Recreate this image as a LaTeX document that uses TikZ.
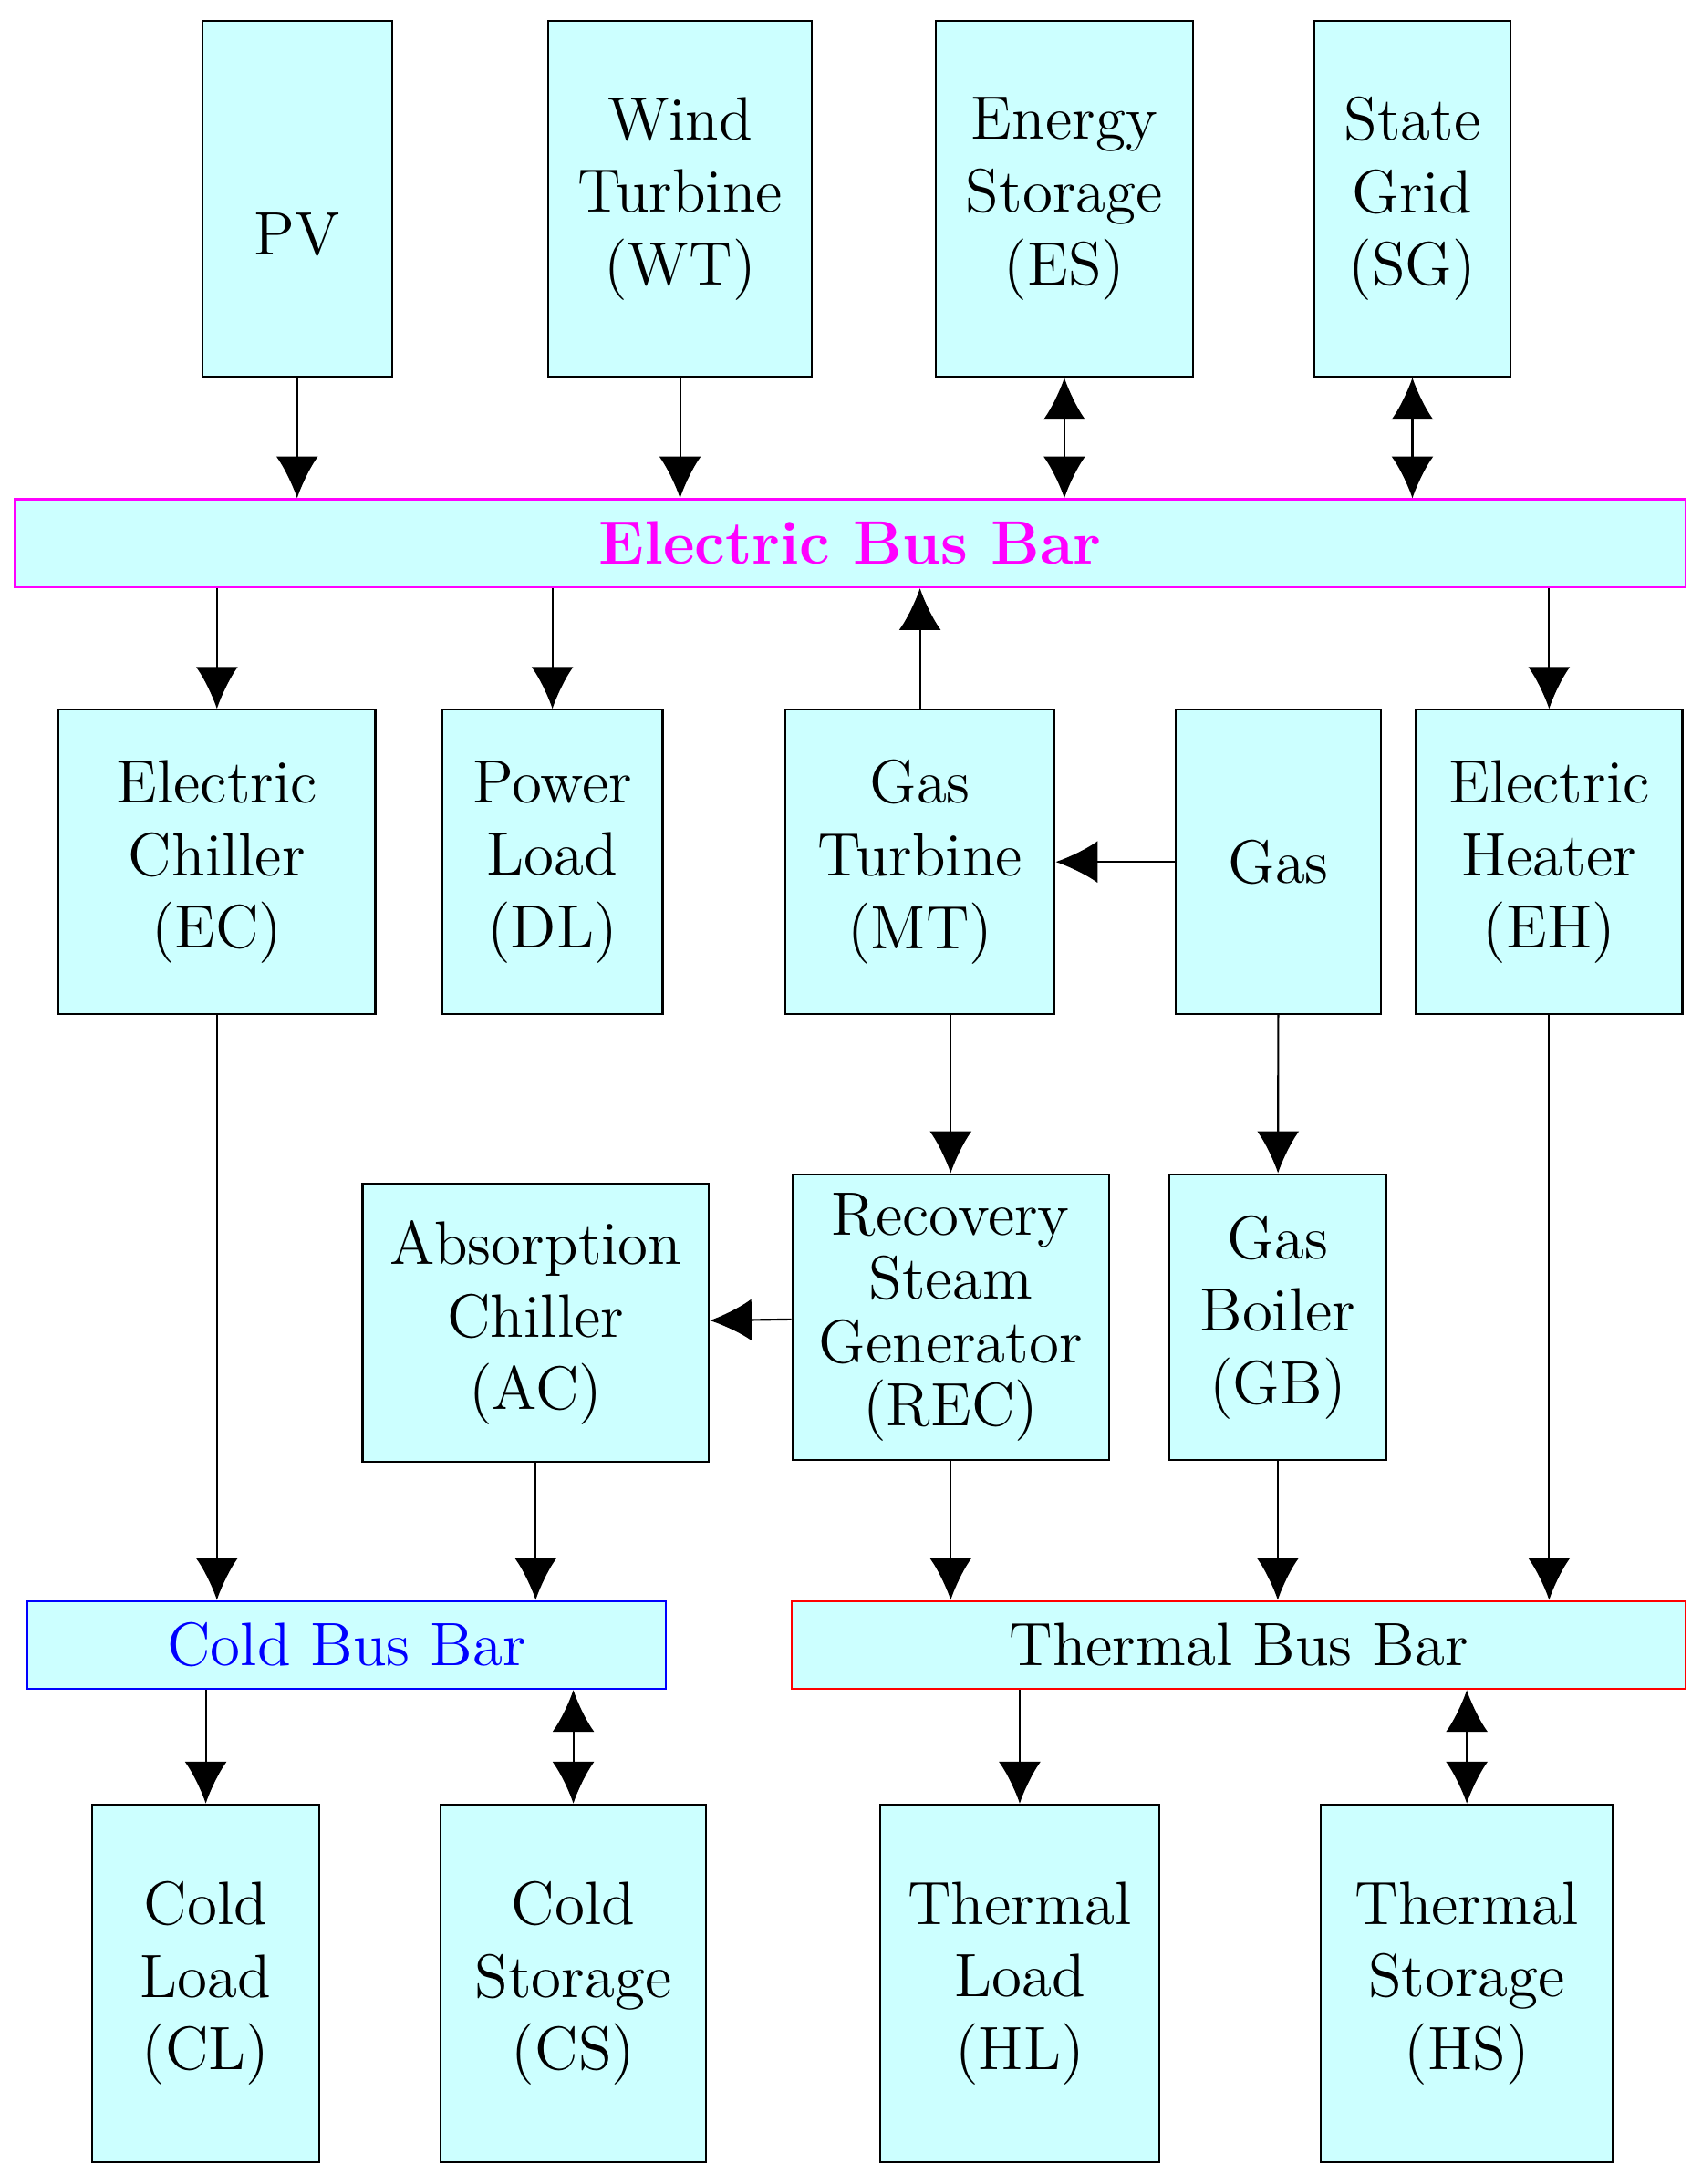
\documentclass[tikz,border=0pt]{standalone}
\usetikzlibrary{arrows.meta}
\definecolor{boxfill}{HTML}{CCFFFF}
\definecolor{busmagenta}{RGB}{255,0,255}
\tikzset{
	box/.style  = {shape=rectangle, draw, fill=boxfill, align=center,
		inner sep=0pt, font=\fontsize{12.5}{14.8}\selectfont},
	bus/.style  = {box, minimum height=0.63cm},
	flow/.style = {-{Latex[length=0.3cm,width=0.3cm]}},
	both/.style = {{Latex[length=0.3cm,width=0.3cm]}-{Latex[length=0.3cm,width=0.3cm]}}
}
\begin{document}
\begin{tikzpicture}[x=0.01cm, y=-0.01cm]
\useasboundingbox (0,0) rectangle (1220,1566);
% sources
\node [box, minimum width=1.36cm, minimum height=2.55cm, text height=0.82cm] (pv) at (213,142.5) {PV};
\node [box, minimum width=1.89cm, minimum height=2.55cm] (wt) at (487.5,142.5) {Wind\\Turbine\\(WT)};
\node [box, minimum width=1.84cm, minimum height=2.55cm] (es) at (763,142.5) {Energy\\Storage\\(ES)};
\node [box, minimum width=1.41cm, minimum height=2.55cm] (sg) at (1012.5,142.5) {State\\Grid\\(SG)};
% buses
\node [bus, draw=busmagenta, minimum width=11.97cm, text=busmagenta, font=\fontsize{12.5}{14.8}\selectfont\bfseries] (ebus) at (609.5,389.5) {Electric Bus Bar};
\node [bus, draw=blue, minimum width=4.57cm, text=blue] (cbus) at (248.5,1179.5) {Cold Bus Bar};
\node [bus, draw=red, minimum width=6.40cm] (tbus) at (888,1179.5) {Thermal Bus Bar};
% converters
\node [box, minimum width=2.27cm, minimum height=2.18cm] (ec) at (155.5,618) {Electric\\Chiller\\(EC)};
\node [box, minimum width=1.58cm, minimum height=2.18cm] (dl) at (396,618) {Power\\Load\\(DL)};
\node [box, minimum width=1.93cm, minimum height=2.18cm] (mt) at (659.5,618) {Gas\\Turbine\\(MT)};
\node [box, minimum width=1.47cm, minimum height=2.18cm] (gas) at (916.5,618) {Gas};
\node [box, minimum width=1.91cm, minimum height=2.18cm] (eh) at (1110.5,618) {Electric\\Heater\\(EH)};
\node [box, minimum width=2.48cm, minimum height=1.99cm] (ac) at (384,948.5) {Absorption\\Chiller\\(AC)};
\node [box, minimum width=2.27cm, minimum height=2.05cm, font=\fontsize{12.5}{13}\selectfont] (rec) at (681.5,944.5) {Recovery\\Steam\\Generator\\(REC)};
\node [box, minimum width=1.56cm, minimum height=2.05cm] (gb) at (916,944.5) {Gas\\Boiler\\(GB)};
% loads and storage
\node [box, minimum width=1.63cm, minimum height=2.56cm] (cl) at (147.5,1422) {Cold\\Load\\(CL)};
\node [box, minimum width=1.90cm, minimum height=2.56cm] (cs) at (411,1422) {Cold\\Storage\\(CS)};
\node [box, minimum width=2.00cm, minimum height=2.56cm] (hl) at (731,1422) {Thermal\\Load\\(HL)};
\node [box, minimum width=2.09cm, minimum height=2.56cm] (hs) at (1051.5,1422) {Thermal\\Storage\\(HS)};
% connectors
\draw [flow] (pv) -- (pv |- ebus.north);
\draw [flow] (wt) -- (wt |- ebus.north);
\draw [both] (es) -- (es |- ebus.north);
\draw [both] (sg) -- (sg |- ebus.north);
\draw [flow] (ebus.south -| ec) -- (ec);
\draw [flow] (ebus.south -| dl) -- (dl);
\draw [flow] (mt) -- (mt |- ebus.south);
\draw [flow] (ebus.south -| eh) -- (eh);
\draw [flow] (gas) -- (mt);
\draw [flow] (mt.south -| rec) -- (rec);
\draw [flow] (gas) -- (gb);
\draw [flow] (rec) -- (ac);
\draw [flow] (ec) -- (ec |- cbus.north);
\draw [flow] (ac) -- (ac |- cbus.north);
\draw [flow] (rec) -- (rec |- tbus.north);
\draw [flow] (gb) -- (gb |- tbus.north);
\draw [flow] (eh) -- (eh |- tbus.north);
\draw [flow] (cbus.south -| cl) -- (cl);
\draw [both] (cbus.south -| cs) -- (cs);
\draw [flow] (tbus.south -| hl) -- (hl);
\draw [both] (tbus.south -| hs) -- (hs);
\end{tikzpicture}
\end{document}
